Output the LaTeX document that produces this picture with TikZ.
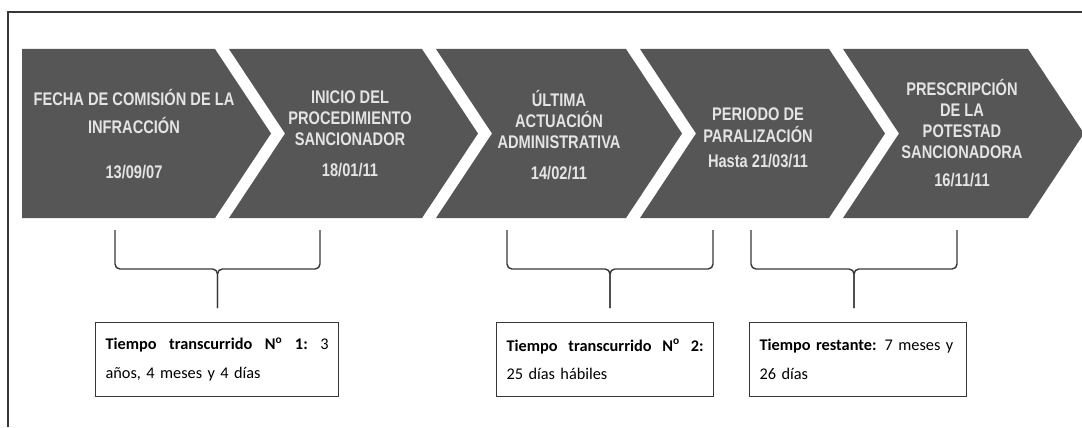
\documentclass[tikz,border=0pt]{standalone}
\usepackage{fontspec}
\setmainfont{Carlito}
\newfontfamily\flechafont[FakeStretch=0.8]{Liberation Sans}
\usepackage{tikz}
\usetikzlibrary{positioning}
\definecolor{grisflecha}{RGB}{86,86,86}
\definecolor{textoflecha}{RGB}{228,228,228}
\definecolor{grislinea}{RGB}{55,55,55}
\tikzset{
  flecha/.style={fill=grisflecha},
  etapa/.style={font=\flechafont\bfseries\fontsize{13}{15}\selectfont, text=textoflecha, align=center, inner sep=0pt},
  llave/.style={draw=grislinea, line width=1pt, rounded corners=3.5pt},
  tiempo/.style={draw=grislinea, line width=1pt, anchor=north west, font=\fontsize{11.6}{20.6}\selectfont, align=left, inner xsep=7pt, inner ysep=0pt, minimum height=52.6pt}
}

\begin{document}
\begin{tikzpicture}[x=0.025cm,y=-0.025cm]
\useasboundingbox (0,0) rectangle (1082,427);
\draw[grislinea, line width=1pt] (8,427) -- (8,12) -- (1082,12);

% flechas
\fill[flecha] (22,49) -- (215,49) -- (271,133.5) -- (215,218) -- (22,218) -- cycle;
\fill[flecha] (229,49) -- (422,49) -- (478,133.5) -- (422,218) -- (229,218) -- (285,133.5) -- cycle;
\fill[flecha] (436,49) -- (626,49) -- (682,133.5) -- (626,218) -- (436,218) -- (492,133.5) -- cycle;
\fill[flecha] (640,49) -- (829,49) -- (885,133.5) -- (829,218) -- (640,218) -- (696,133.5) -- cycle;
\fill[flecha] (843,49) -- (1028,49) -- (1084,133.5) -- (1028,218) -- (843,218) -- (899,133.5) -- cycle;

\node[etapa] (fecha) at (134,134) {FECHA DE COMISIÓN DE LA\\[5pt]INFRACCIÓN\\[17pt]13/09/07};
\node[etapa] (inicio) at (350,134) {INICIO DEL\\PROCEDIMIENTO\\SANCIONADOR\\[7pt]18/01/11};
\node[etapa] (ultima) at (559,135) {ÚLTIMA\\ACTUACIÓN\\ADMINISTRATIVA\\[7pt]14/02/11};
\node[etapa] (periodo) at (758,138) {PERIODO DE\\PARALIZACIÓN\\[3pt]Hasta 21/03/11};
\node[etapa] (prescripcion) at (962,133) {PRESCRIPCIÓN\\DE LA\\POTESTAD\\SANCIONADORA\\[5pt]16/11/11};

% llaves
\draw[llave] (115,230) |- (217.5,269) -- (217.5,308) coordinate (p1);
\draw[llave] (320,230) |- (217.5,269) -- (217.5,308);
\draw[llave] (507,230) |- (610,269) -- (610,308) coordinate (p2);
\draw[llave] (713,230) |- (610,269) -- (610,308);
\draw[llave] (751,230) |- (854,269) -- (854,308) coordinate (p3);
\draw[llave] (957,230) |- (854,269) -- (854,308);

% cuadros
\node[tiempo, text width=158.6pt] (t1) at (95,322) {\makebox[\linewidth][s]{\textbf{Tiempo}\hfill\textbf{transcurrido}\hfill\textbf{N\textsuperscript{o}}\hfill\textbf{1:}\hfill 3}\\años, 4 meses y 4 días};
\node[tiempo, text width=140.1pt] (t2) at (496,322) {\makebox[\linewidth][s]{\textbf{Tiempo}\hfill\textbf{transcurrido}\hfill\textbf{N\textsuperscript{o}}\hfill\textbf{2:}}\\25 días hábiles};
\node[tiempo, text width=140.1pt] (t3) at (749,322) {\makebox[\linewidth][s]{\textbf{Tiempo restante:} 7 meses y}\\26 días};
\end{tikzpicture}
\end{document}
